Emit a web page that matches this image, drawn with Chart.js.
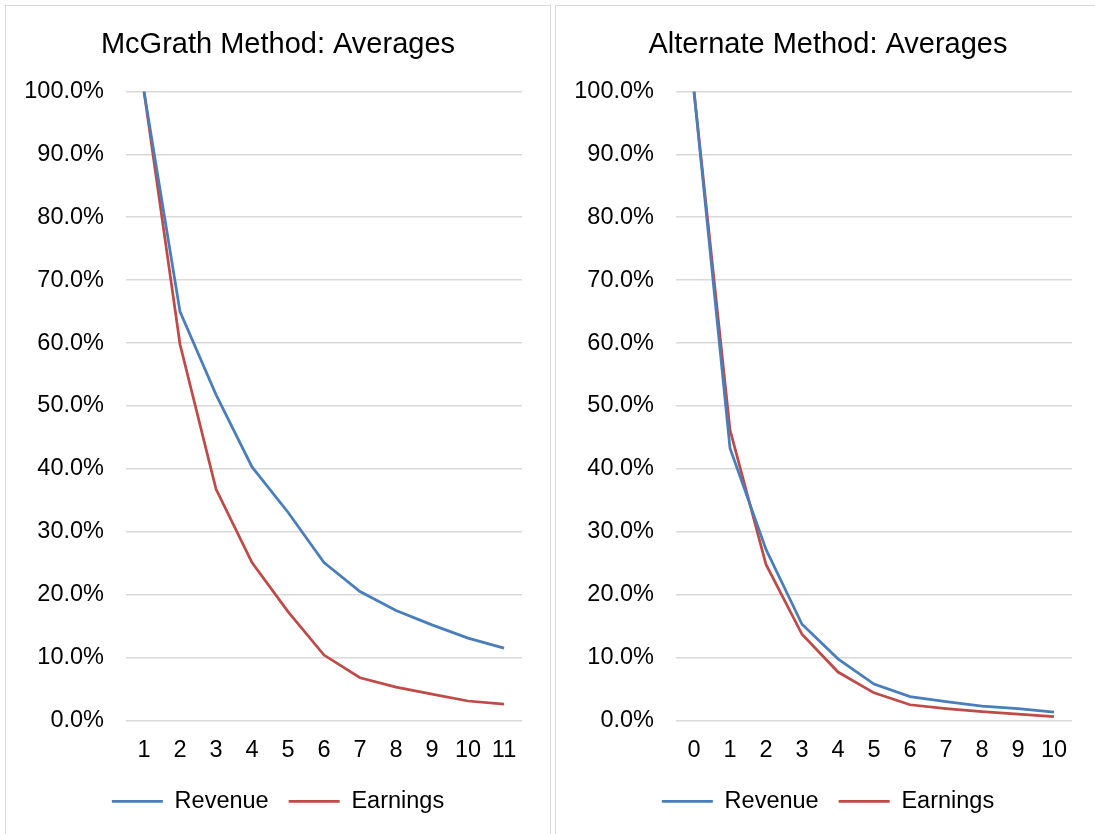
<!DOCTYPE html>
<html>
<head>
<meta charset="utf-8">
<script src="https://cdn.jsdelivr.net/npm/chart.js@4.4.1/dist/chart.umd.min.js"></script>
<style>
  html, body { margin: 0; padding: 0; background: #fff; overflow: hidden; width: 1095px; height: 834px; }
  .box { position: absolute; top: 5px; border: 1px solid #d9d9d9; background: #fff; width: 544px; height: 840px; }
  #b1 { left: 5px; }
  #b2 { left: 555px; }
  canvas { display: block; }
</style>
</head>
<body>
<div class="box" id="b1"><canvas id="c1" width="544" height="828"></canvas></div>
<div class="box" id="b2"><canvas id="c2" width="544" height="828"></canvas></div>
<script>
// ---- Data (values in percent) ----
const mcgrathTitle = "McGrath Method: Averages";
const mcgrathCategories = ["1","2","3","4","5","6","7","8","9","10","11"];
const mcgrathRevenue  = [100, 65.0, 51.8, 40.3, 33.1, 25.1, 20.5, 17.5, 15.2, 13.1, 11.5];
const mcgrathEarnings = [100, 59.8, 36.8, 25.1, 17.3, 10.4, 6.8, 5.3, 4.2, 3.1, 2.6];

const altTitle = "Alternate Method: Averages";
const altCategories = ["0","1","2","3","4","5","6","7","8","9","10"];
const altRevenue  = [100, 43.3, 27.2, 15.3, 9.8, 5.8, 3.8, 3.0, 2.3, 1.9, 1.35];
const altEarnings = [100, 46.2, 24.8, 13.7, 7.7, 4.4, 2.5, 1.9, 1.4, 1.0, 0.6];

const seriesNames = ["Revenue", "Earnings"];
const yTickValues = [0, 10, 20, 30, 40, 50, 60, 70, 80, 90, 100];

const BLUE = "#4A7EBB";
const RED = "#BE4B48";
const FONT = "'Liberation Sans', Arial, sans-serif";

function makeChart(canvasId, title, cats, rev, earn) {
  return new Chart(document.getElementById(canvasId), {
    type: "line",
    data: {
      labels: cats,
      datasets: [
        { label: seriesNames[0], data: rev, borderColor: BLUE, backgroundColor: BLUE, borderWidth: 2.75, pointRadius: 0, tension: 0, pointStyle: "line" },
        { label: seriesNames[1], data: earn, borderColor: RED, backgroundColor: RED, borderWidth: 2.75, pointRadius: 0, tension: 0, pointStyle: "line" }
      ]
    },
    options: {
      responsive: false,
      animation: false,
      devicePixelRatio: 1,
      layout: { padding: { left: 0, right: 0, top: 0, bottom: 11 } },
      plugins: {
        title: {
          display: true, text: title, color: "#000",
          font: { family: FONT, size: 29, weight: "normal" },
          padding: { top: 22, bottom: 28.6 }
        },
        legend: {
          position: "bottom",
          labels: {
            color: "#000",
            font: { family: FONT, size: 23.5 },
            usePointStyle: true,
            pointStyleWidth: 51,
            padding: 20
          }
        },
        tooltip: { enabled: false }
      },
      scales: {
        x: {
          offset: true,
          grid: { display: false, drawTicks: false },
          border: { display: false },
          ticks: { color: "#000", font: { family: FONT, size: 23.5 }, padding: 15.5, maxRotation: 0, autoSkip: false },
          afterFit: (s) => { s.height = 49; }
        },
        y: {
          position: "left",
          min: 0, max: 100,
          afterBuildTicks: (s) => { s.ticks = yTickValues.map(v => ({ value: v })); },
          grid: { color: "#d9d9d9", lineWidth: 1.5, drawTicks: false },
          border: { display: false },
          ticks: {
            color: "#000", font: { family: FONT, size: 23.5 }, padding: 22,
            callback: (v) => Number(v).toFixed(1) + "%"
          },
          afterFit: (s) => { s.width = 120; }
        },
        yRightSpacer: {
          type: "linear",
          position: "right",
          display: true,
          min: 0, max: 100,
          grid: { display: false, drawTicks: false },
          border: { display: false },
          ticks: { display: false },
          afterFit: (s) => { s.width = 28; }
        }
      }
    }
  });
}

makeChart("c1", mcgrathTitle, mcgrathCategories, mcgrathRevenue, mcgrathEarnings);
makeChart("c2", altTitle, altCategories, altRevenue, altEarnings);
</script>
</body>
</html>
